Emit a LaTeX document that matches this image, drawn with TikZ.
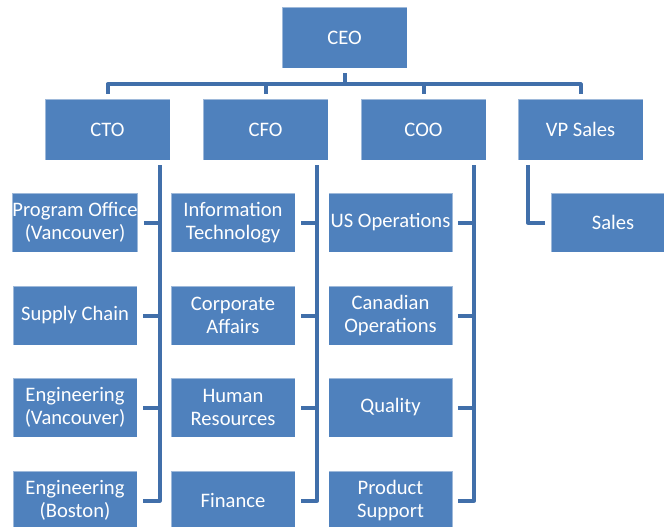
\documentclass[tikz,border=0pt]{standalone}
\usepackage{fontspec}
\setmainfont{Carlito}
\definecolor{boxblue}{HTML}{4F81BD}
\definecolor{linkblue}{HTML}{416FAA}
\begin{document}
\begin{tikzpicture}[x=1pt,y=-1pt,
  unit/.style={rectangle, fill=boxblue, draw=white, draw opacity=0.45, line width=0.8pt,
    inner sep=0pt, text=white, align=center,
    font=\fontsize{20.6}{23.5}\selectfont},
  headbox/.style={unit, minimum width=125pt, minimum height=61pt},
  subbox/.style={unit, minimum width=124pt, minimum height=59pt},
  conn/.style={draw=linkblue, line width=4pt, line join=round}]
\useasboundingbox (0,0) rectangle (664,527);
\clip (0,0) rectangle (664,527);

% top level
\node[headbox] (ceo) at (344.5,37.5) {CEO};
\node[headbox] (cto) at (107.5,129.5) {CTO};
\node[headbox] (cfo) at (265.5,129.5) {CFO};
\node[headbox] (coo) at (423.5,129.5) {COO};
\node[headbox] (vps) at (580.5,129.5) {VP Sales};

% CTO units
\node[subbox] (po)  at (75,222.5) {Program Office\\(Vancouver)};
\node[subbox] (sc)  at (75,315.5) {Supply Chain};
\node[subbox] (ev)  at (75,407.5) {Engineering\\(Vancouver)};
\node[subbox] (eb)  at (75,500.5) {Engineering\\(Boston)};

% CFO units
\node[subbox] (it)  at (233,222.5) {Information\\Technology};
\node[subbox] (ca)  at (233,315.5) {Corporate\\Affairs};
\node[subbox] (hr)  at (233,407.5) {Human\\Resources};
\node[subbox] (fin) at (233,500.5) {Finance};

% COO units
\node[subbox] (uso) at (390.5,222.5) {US Operations};
\node[subbox] (cao) at (390.5,315.5) {Canadian\\Operations};
\node[subbox] (qa)  at (390.5,407.5) {Quality};
\node[subbox] (ps)  at (390.5,500.5) {Product\\Support};

% VP Sales unit
\node[subbox] (sal) at (613,222.5) {Sales};

% CEO to the four direct reports
\foreach \n in {cto,cfo,coo,vps}
  \draw[conn] ([yshift=-5pt]ceo.south) -- ++(0pt,-11pt) -| ([yshift=5pt]\n.north);

% trunk lines under each executive
\coordinate (ctoT) at ([xshift=-10.5pt,yshift=-5pt]cto.south east);
\coordinate (cfoT) at ([xshift=-11pt,yshift=-5pt]cfo.south east);
\coordinate (cooT) at ([xshift=-12pt,yshift=-5pt]coo.south east);
\coordinate (vpsT) at ([xshift=10pt,yshift=-5pt]vps.south west);

\draw[conn] (ctoT) |- ([xshift=6pt]eb.east);
\foreach \n in {po,sc,ev}
  \draw[conn] ([xshift=6pt]\n.east) -- (\n.east -| ctoT);

\draw[conn] (cfoT) |- ([xshift=6pt]fin.east);
\foreach \n in {it,ca,hr}
  \draw[conn] ([xshift=6pt]\n.east) -- (\n.east -| cfoT);

\draw[conn] (cooT) |- ([xshift=5pt]ps.east);
\foreach \n in {uso,cao,qa}
  \draw[conn] ([xshift=5pt]\n.east) -- (\n.east -| cooT);

\draw[conn] (vpsT) |- ([xshift=-6pt]sal.west);
\end{tikzpicture}
\end{document}
